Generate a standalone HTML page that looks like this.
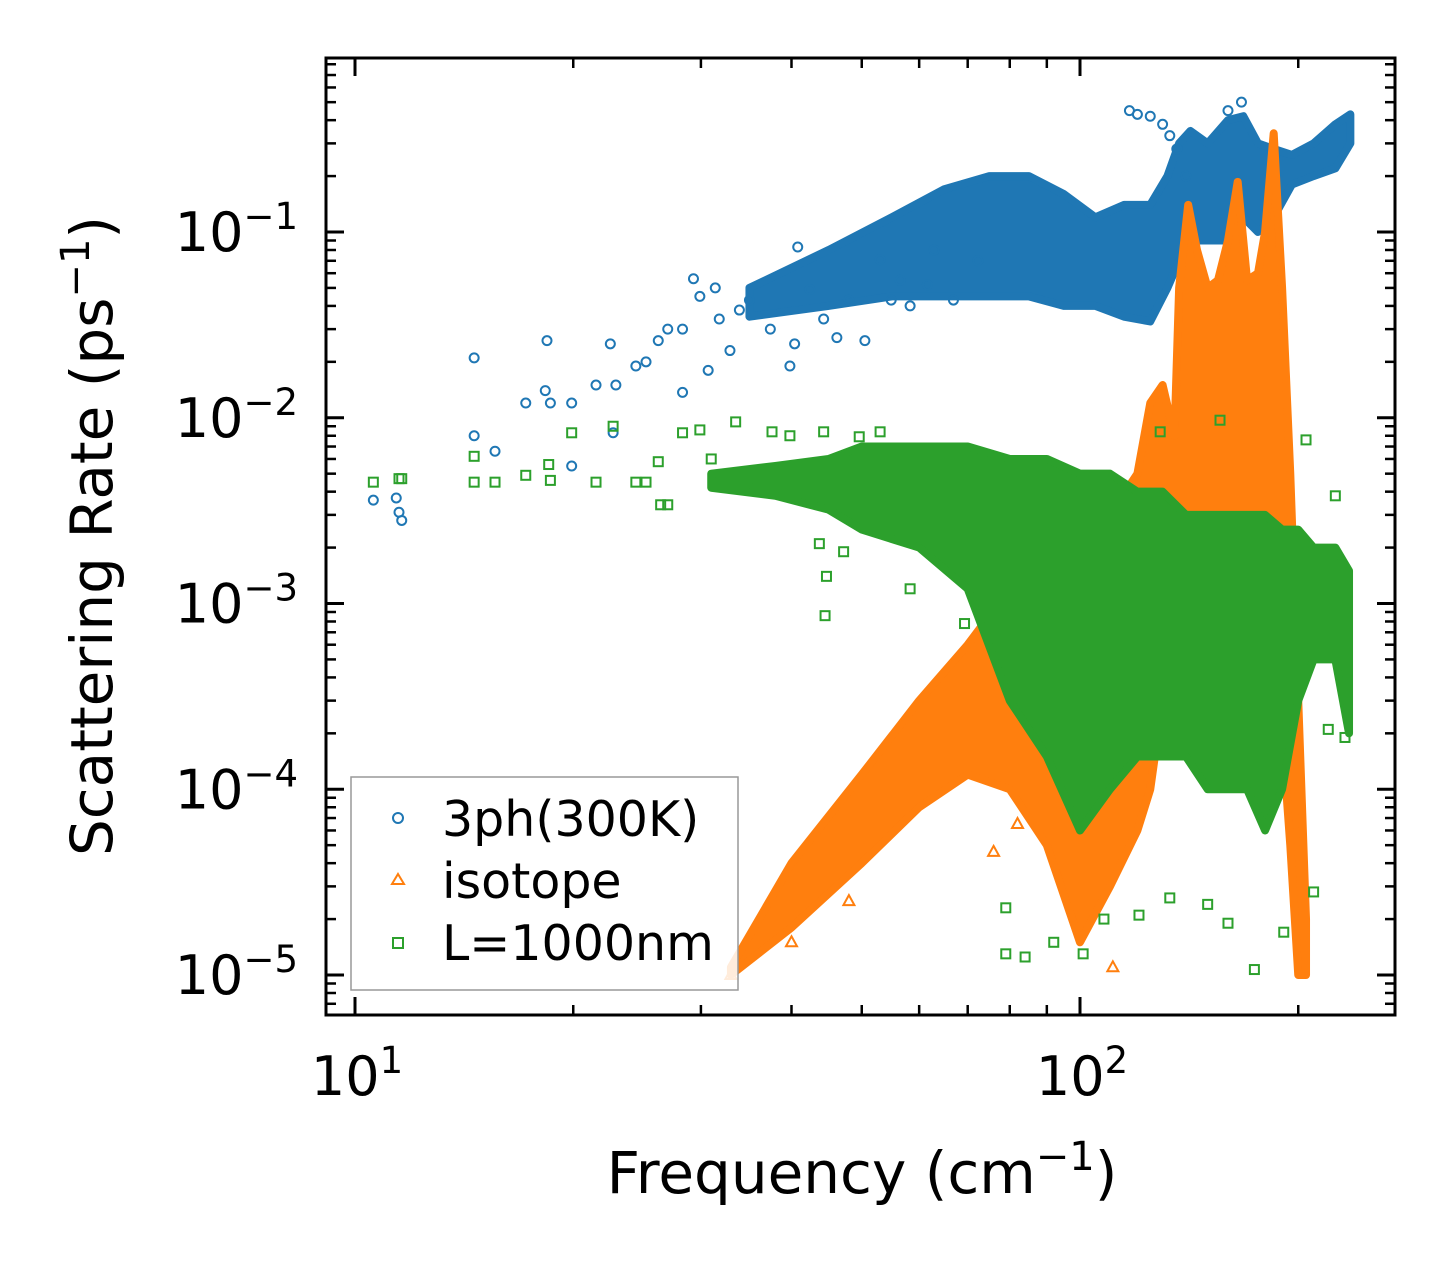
<!DOCTYPE html>
<html><head><meta charset="utf-8"><style>
html,body{margin:0;padding:0;background:#fff;}
svg{display:block;font-family:"DejaVu Sans","Liberation Sans",sans-serif;}
</style></head><body>
<svg id="chart" width="1455" height="1265" viewBox="0 0 1455 1265" xmlns="http://www.w3.org/2000/svg">
<g id="bands"></g>
<g id="marks"></g>
<g id="axes"></g>
<text x="862" y="1193" font-size="58" text-anchor="middle">Frequency (cm<tspan dy="-23" font-size="40">−1</tspan><tspan dy="23">)</tspan></text>
<text transform="translate(112,536) rotate(-90)" font-size="58" text-anchor="middle">Scattering Rate (ps<tspan dy="-23" font-size="40">−1</tspan><tspan dy="23">)</tspan></text>
<g>
<rect x="351" y="777" width="387" height="213" fill="#fff" fill-opacity="0.85" stroke="#999" stroke-width="1.5"/>
<circle cx="398" cy="818" r="5" fill="none" stroke="#1f77b4" stroke-width="2"/>
<text x="442" y="836" font-size="49">3ph(300K)</text>
<polygon points="398,874 404,884 392,884" fill="none" stroke="#ff7f0e" stroke-width="2"/>
<text x="442" y="898" font-size="49">isotope</text>
<rect x="393" y="938" width="10" height="10" fill="none" stroke="#2ca02c" stroke-width="2"/>
<text x="442" y="960" font-size="49">L=1000nm</text>
</g>
</svg>
<script>
// ---- data ----
const blueFreq=[10.6,11.4,11.5,11.6,14.6,14.6,15.6,17.2,18.3,18.4,18.6,19.9,19.9,21.5,22.5,22.7,22.9,24.4,25.2,26.2,27,28.3,28.3,29.3,29.9,30.7,31.4,31.8,32.9,33.9,35,37.4,39.8,40.4,40.8,42.4,44.3,46.2,48,50.5,53,54.9,56.5,58.3,61.6,62.9,66.9,72.3,117,120,125,130,133,136,140,160,167];
const blueRate=[0.0036,0.0037,0.0031,0.0028,0.021,0.008,0.0066,0.012,0.014,0.026,0.012,0.012,0.0055,0.015,0.025,0.0083,0.015,0.019,0.02,0.026,0.03,0.03,0.0137,0.056,0.045,0.018,0.05,0.034,0.023,0.038,0.043,0.03,0.019,0.025,0.083,0.049,0.034,0.027,0.043,0.026,0.071,0.043,0.055,0.04,0.052,0.08,0.043,0.07,0.45,0.43,0.42,0.38,0.33,0.28,0.2,0.45,0.5];
const blueBandF=[35,45,55,65,75,85,95,105,115,125,132,137,142,150,160,168,176,185,196,210,225,236];
const blueBandLo=[0.035,0.04,0.045,0.045,0.045,0.045,0.04,0.04,0.035,0.033,0.05,0.07,0.09,0.09,0.09,0.12,0.1,0.12,0.18,0.2,0.22,0.3];
const blueBandHi=[0.05,0.08,0.12,0.17,0.2,0.2,0.16,0.12,0.14,0.14,0.2,0.3,0.35,0.3,0.4,0.42,0.3,0.28,0.26,0.3,0.38,0.43];

const orFreq=[76,82,111,33,40,48];
const orRate=[4.6e-5,6.5e-5,1.1e-5,1e-5,1.5e-5,2.5e-5];
const orBandF=[33,40,50,60,70,80,90,100,110,120,125,130,135,137,141,145,150,155,160,165,170,176,180,185,190,195,200,205];
const orBandLo=[1e-5,1.8e-5,4e-5,8e-5,1.2e-4,1e-4,5e-5,1.5e-5,3e-5,6e-5,1e-4,3e-4,1e-3,2e-3,2e-3,3e-3,3e-3,2e-3,2e-3,1e-3,1e-3,1e-3,1e-3,5e-4,2e-4,5e-5,1e-5,1e-5];
const orBandHi=[1.1e-5,4e-5,1.2e-4,3e-4,6e-4,1.2e-3,1.5e-3,2e-3,3e-3,5e-3,1.2e-2,1.5e-2,8e-3,5e-2,0.14,0.08,0.05,0.055,0.09,0.186,0.055,0.06,0.1,0.34,0.05,5e-3,3e-4,2e-5];

const grFreq=[10.6,11.5,11.6,14.6,14.6,15.6,17.2,18.5,18.6,19.9,21.5,22.7,24.4,25.2,26.2,26.4,27,28.3,29.9,31,33.5,35,37.6,39.8,43.7,44.3,44.5,44.7,47.2,49.6,53,58.3,69.3,79,84,79,92,101,107.9,120.6,133,150,160,174,191,210,232,220,205,225,156,129];
const grRate=[0.0045,0.0047,0.0047,0.0062,0.0045,0.0045,0.0049,0.0056,0.0046,0.0083,0.0045,0.009,0.0045,0.0045,0.0058,0.0034,0.0034,0.0083,0.0086,0.006,0.0095,0.0046,0.0084,0.008,0.0021,0.0084,0.00086,0.0014,0.0019,0.0079,0.0084,0.0012,0.00078,1.3e-5,1.25e-5,2.3e-5,1.5e-5,1.3e-5,2e-5,2.1e-5,2.6e-5,2.4e-5,1.9e-5,1.07e-5,1.7e-5,2.8e-5,1.9e-4,2.1e-4,0.0076,0.0038,0.0097,0.0084];
const grBandF=[31,38,45,50,60,70,80,90,100,110,120,130,140,150,160,170,180,190,200,210,225,235];
const grBandLo=[4.2e-3,3.8e-3,3.2e-3,2.5e-3,2e-3,1.2e-3,3e-4,1.5e-4,6e-5,1e-4,1.5e-4,1.5e-4,1.5e-4,1e-4,1e-4,1e-4,6e-5,1e-4,3e-4,5e-4,5e-4,2e-4];
const grBandHi=[5e-3,5.5e-3,6e-3,7e-3,7e-3,7e-3,6e-3,6e-3,5e-3,5e-3,4e-3,4e-3,3e-3,3e-3,3e-3,3e-3,3e-3,2.5e-3,2.5e-3,2e-3,2e-3,1.5e-3];

const xTickVals=[10,100];
const xTickLabels=["1","2"];
const yTickVals=[1e-1,1e-2,1e-3,1e-4,1e-5];
const yTickLabels=["−1","−2","−3","−4","−5"];

// ---- axes ----
const L=326,R=1395,T=58,B=1015;
const X=f=>355+(Math.log10(f)-1)*725;
const Y=v=>232+(-1-Math.log10(v))*185.75;
const NS="http://www.w3.org/2000/svg";
function mk(tag,parent,attrs){const e=document.createElementNS(NS,tag);for(const k in attrs)e.setAttribute(k,attrs[k]);parent.appendChild(e);return e;}
const bands=document.getElementById('bands'),marks=document.getElementById('marks'),axes=document.getElementById('axes');

function band(F,lo,hi,color,name){
  let pts=F.map((f,i)=>X(f)+','+Y(hi[i]));
  for(let i=F.length-1;i>=0;i--)pts.push(X(F[i])+','+Y(lo[i]));
  const p=mk('polygon',bands,{points:pts.join(' '),fill:color,stroke:color,'stroke-width':8,'stroke-linejoin':'round'});
  
  
}
band(blueBandF,blueBandLo,blueBandHi,'#1f77b4','band-3ph');
band(orBandF,orBandLo,orBandHi,'#ff7f0e','band-isotope');
band(grBandF,grBandLo,grBandHi,'#2ca02c','band-boundary');

blueFreq.forEach((f,i)=>{const c=mk('circle',marks,{cx:X(f),cy:Y(blueRate[i]),r:4.5,fill:'none',stroke:'#1f77b4','stroke-width':2});

});
orFreq.forEach((f,i)=>{const x=X(f),y=Y(orRate[i]);const c=mk('polygon',marks,{points:`${x},${y-6} ${x+5.5},${y+4} ${x-5.5},${y+4}`,fill:'none',stroke:'#ff7f0e','stroke-width':2});

});
grFreq.forEach((f,i)=>{const x=X(f),y=Y(grRate[i]);const c=mk('rect',marks,{x:x-4.5,y:y-4.5,width:9,height:9,fill:'none',stroke:'#2ca02c','stroke-width':2});

});

const frame=mk('rect',axes,{x:L,y:T,width:R-L,height:B-T,fill:'none',stroke:'#000','stroke-width':3});


for(let d=1;d<=2;d++)for(let m=1;m<=9;m++){const f=m*Math.pow(10,d);if(f<9.1||f>272)continue;const x=X(f);const len=m===1?18:10;
 mk('line',axes,{x1:x,y1:B,x2:x,y2:B-len,stroke:'#000','stroke-width':m===1?3:2.5});
 mk('line',axes,{x1:x,y1:T,x2:x,y2:T+len,stroke:'#000','stroke-width':m===1?3:2.5});}
for(let d=-6;d<=0;d++)for(let m=1;m<=9;m++){const v=m*Math.pow(10,d);const y=Y(v);if(y<T||y>B)continue;const len=m===1?18:10;
 mk('line',axes,{x1:L,y1:y,x2:L+len,y2:y,stroke:'#000','stroke-width':m===1?3:2.5});
 mk('line',axes,{x1:R,y1:y,x2:R-len,y2:y,stroke:'#000','stroke-width':m===1?3:2.5});}
xTickVals.forEach((v,i)=>{const t=mk('text',axes,{x:X(v)+2,y:1095,'font-size':54,'text-anchor':'middle'});t.innerHTML=`10<tspan dy="-22" font-size="37">${xTickLabels[i]}</tspan>`;

});
yTickVals.forEach((v,i)=>{const t=mk('text',axes,{x:298,y:Y(v)+19,'font-size':54,'text-anchor':'end'});t.innerHTML=`10<tspan dy="-22" font-size="37">${yTickLabels[i]}</tspan>`;

});
</script>
</body></html>
